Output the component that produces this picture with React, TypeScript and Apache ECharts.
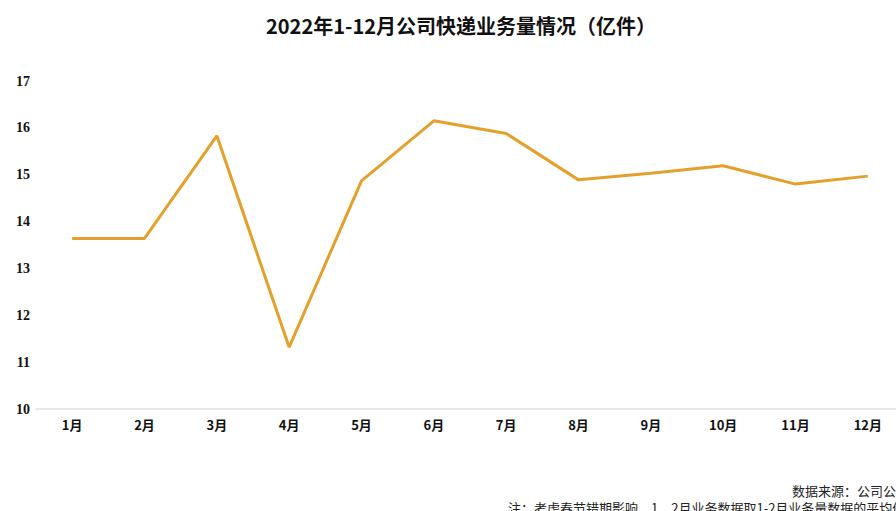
import React, { useEffect, useRef } from "react";
import * as echarts from "echarts";

const months = ["1月", "2月", "3月", "4月", "5月", "6月", "7月", "8月", "9月", "10月", "11月", "12月"];
const volumes = [13.64, 13.64, 15.83, 11.32, 14.87, 16.15, 15.88, 14.89, 15.03, 15.19, 14.8, 14.97];
const titleText = "2022年1-12月公司快递业务量情况（亿件）";
const sourceText = "数据来源：公司公告";
const noteText = "注：考虑春节错期影响，1、2月业务数据取1-2月业务量数据的平均值";

export default function App() {
  const ref = useRef<HTMLDivElement>(null);
  useEffect(() => {
    if (!ref.current) return;
    const chart = echarts.init(ref.current, null, { renderer: "svg" });
    chart.setOption({
      animation: false,
      backgroundColor: "#ffffff",
      title: {
        text: titleText,
        left: 456,
        textAlign: "center",
        top: 10,
        textStyle: {
          fontFamily: "Noto Sans CJK SC",
          fontSize: 20,
          fontWeight: "bold",
          color: "#111111",
        },
      },
      grid: {
        left: 36,
        top: 81,
        width: 868,
        height: 328,
        containLabel: false,
        outerBoundsMode: "none",
      },
      xAxis: {
        type: "category",
        data: months,
        boundaryGap: true,
        axisTick: { show: false },
        axisLine: { lineStyle: { color: "#e0e0e0", width: 1.5 } },
        axisLabel: {
          margin: 9,
          fontFamily: "Noto Sans CJK SC",
          fontSize: 13,
          fontWeight: "bold",
          color: "#111111",
        },
      },
      yAxis: {
        type: "value",
        min: 10,
        max: 17,
        interval: 1,
        axisLine: { show: false },
        axisTick: { show: false },
        splitLine: { show: false },
        axisLabel: {
          margin: 6,
          fontFamily: "Liberation Serif",
          fontSize: 14,
          fontWeight: "bold",
          color: "#111111",
        },
      },
      series: [
        {
          type: "line",
          data: volumes,
          symbol: "none",
          lineStyle: { color: "#e3a12b", width: 3 },
        },
      ],
      graphic: [
        {
          type: "text",
          left: 792,
          top: 482,
          style: {
            text: sourceText,
            fontFamily: "Noto Sans CJK SC",
            fontSize: 13,
            lineHeight: 16,
            fill: "#222222",
          },
        },
        {
          type: "text",
          left: 508,
          top: 499,
          style: {
            text: noteText,
            fontFamily: "Noto Sans CJK SC",
            fontSize: 13,
            lineHeight: 16,
            fill: "#222222",
          },
        },
      ],
    });
    return () => chart.dispose();
  }, []);
  return (
    <div
      ref={ref}
      style={{ position: "fixed", left: 0, top: 0, width: 896, height: 511, overflow: "hidden" }}
    />
  );
}
